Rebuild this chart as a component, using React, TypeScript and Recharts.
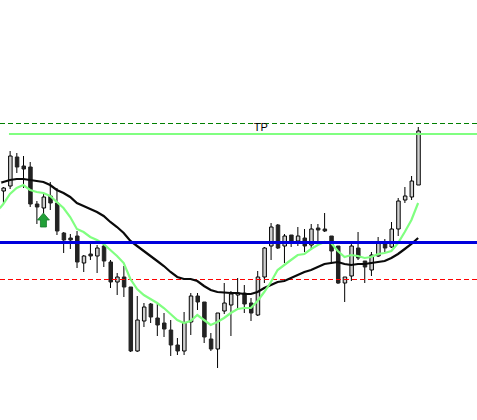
import {
  Bar,
  Cell,
  ComposedChart,
  Line,
  ReferenceDot,
  ReferenceLine,
  XAxis,
  YAxis,
} from "recharts";

// Levels are read off the picture; the price scale has no labels so it runs 0-420.
const opens = [
  229, 234, 263, 254, 253, 216, 212, 224, 217, 187, 182, 184, 157, 166, 164, 174, 158, 138, 143, 133, 69,
  99, 116, 102, 97, 90, 75, 69, 98, 124, 118, 81, 71, 109, 115, 125, 127, 117, 105, 143, 174, 195,
  174, 185, 179, 182, 175, 192, 191, 184, 174, 137, 144, 172, 159, 150, 164, 176, 173, 191, 220, 223, 235,
];
const closes = [
  232, 264, 253, 251, 216, 213, 223, 217, 189, 180, 180, 158, 164, 164, 172, 159, 138, 143, 133, 69, 100,
  113, 103, 95, 91, 75, 69, 97, 124, 118, 83, 71, 107, 117, 126, 127, 116, 107, 143, 172, 193, 172,
  184, 179, 184, 174, 191, 190, 189, 169, 137, 143, 174, 162, 153, 165, 177, 172, 191, 219, 224, 239, 289,
];
const highs = [
  233, 269, 267, 264, 258, 219, 226, 238, 232, 188, 186, 189, 165, 177, 175, 177, 160, 147, 154, 133, 124,
  117, 117, 116, 107, 100, 82, 108, 127, 127, 118, 87, 107, 137, 129, 142, 135, 122, 149, 173, 197, 196,
  186, 185, 193, 191, 196, 196, 207, 184, 174, 143, 176, 188, 159, 168, 183, 181, 198, 222, 233, 244, 293,
];
const lows = [
  217, 231, 247, 232, 213, 196, 207, 210, 185, 167, 171, 152, 148, 160, 147, 153, 132, 125, 123, 68, 68,
  93, 97, 84, 83, 64, 65, 65, 85, 110, 77, 69, 52, 106, 84, 111, 107, 99, 104, 137, 160, 171,
  157, 173, 174, 168, 170, 177, 188, 158, 136, 118, 139, 160, 137, 144, 163, 168, 172, 184, 217, 220, 235,
];
const slowMa = [
  238, 240, 241, 241, 240, 239, 238, 235, 230, 227, 223, 217, 214, 211, 208, 204, 198, 193, 187, 179, 174,
  169, 164, 159, 154, 148, 143, 141, 141, 139, 134, 130, 128, 127.5, 127, 127, 126, 126, 128, 132, 135, 138,
  139, 142, 145, 148, 150, 153, 156, 157, 158, 156, 155, 156, 156, 157, 158, 159, 162, 166, 171, 176, 182,
];
const fastMa = [
  216, 226, 232, 235, 230, 228, 227, 224, 218, 212, 203, 191, 188, 183, 180, 176, 170, 164, 157, 141, 131,
  125, 121, 117, 112, 106, 100, 97, 99, 105, 100, 95, 98, 102, 107, 111, 112, 112, 119, 128, 138, 150,
  155, 160, 165, 166, 171, 175, 178, 177, 169, 163, 165, 164, 162, 163, 166, 167, 169, 177, 188, 200, 217,
];

const TP_LEVEL = 286;
const UPPER_LEVEL = 296.5;
const BLUE_LEVEL = 177.5;
const LOWER_LEVEL = 140.5;
const BUY_SIGNAL = { bar: 6, level: 207 };

// one bar earlier than the window, so both averages run off the left edge
const leadIn = { i: -1, slow: 236, fast: 208 };
const rows = [
  leadIn,
  ...opens.map((open, i) => ({
    i,
    open,
    close: closes[i],
    high: highs[i],
    low: lows[i],
    slow: slowMa[i],
    fast: fastMa[i],
  })),
];

const X_DOMAIN: [number, number] = [-0.49, 70.8];

const wick = (d: any) => (d.high == null ? null : [d.low, d.high]);
const body = (d: any) => (d.open == null ? null : [Math.min(d.open, d.close), Math.max(d.open, d.close)]);

function BuyArrow({ cx, cy }: { cx?: number; cy?: number }) {
  const x = cx ?? 0;
  const y = cy ?? 0;
  return (
    <polygon
      points={`${x},${y} ${x + 6},${y + 7} ${x + 3},${y + 7} ${x + 3},${y + 14} ${x - 3},${y + 14} ${x - 3},${y + 7} ${x - 6},${y + 7}`}
      fill="#22a038"
      stroke="#157a28"
      strokeWidth={0.8}
    />
  );
}

export default function App() {
  return (
    <div style={{ position: "absolute", left: 0, top: 0, width: 477, height: 420 }}>
      <ComposedChart width={477} height={420} data={rows} margin={{ top: 0, right: 0, bottom: 0, left: 0 }}>
        <XAxis hide xAxisId="body" dataKey="i" type="number" domain={X_DOMAIN} allowDataOverflow />
        <XAxis hide xAxisId="wick" dataKey="i" type="number" domain={X_DOMAIN} allowDataOverflow />
        <YAxis hide yAxisId="price" domain={[0, 420]} allowDataOverflow />

        <ReferenceLine xAxisId="body" yAxisId="price" y={UPPER_LEVEL} stroke="#008000" strokeDasharray="5 3" />
        <ReferenceLine xAxisId="body" yAxisId="price" y={LOWER_LEVEL} stroke="#ff0000" strokeDasharray="5 3" />

        <Bar xAxisId="wick" yAxisId="price" dataKey={wick} barSize={1} fill="#000" isAnimationActive={false} />
        <Bar xAxisId="body" yAxisId="price" dataKey={body} barSize={3.5} strokeWidth={1} isAnimationActive={false}>
          {rows.map((d: any) => {
            const up = d.close >= d.open;
            return <Cell key={d.i} fill={up ? "#d0d0d0" : "#222222"} stroke={up ? "#000" : "#222222"} />;
          })}
        </Bar>

        <Line xAxisId="body" yAxisId="price" dataKey="slow" stroke="#0a0a0a" strokeWidth={2.2} dot={false} isAnimationActive={false} />
        <Line xAxisId="body" yAxisId="price" dataKey="fast" stroke="#80ff80" strokeWidth={2.2} dot={false} isAnimationActive={false} />

        <ReferenceLine
          xAxisId="body"
          yAxisId="price"
          segment={[
            { x: 0.85, y: TP_LEVEL },
            { x: 70.8, y: TP_LEVEL },
          ]}
          stroke="#80ff80"
          strokeWidth={2}
        />
        <ReferenceLine xAxisId="body" yAxisId="price" y={BLUE_LEVEL} stroke="#0000dd" strokeWidth={3} />
        <ReferenceDot
          xAxisId="body"
          yAxisId="price"
          x={38.5}
          y={293}
          r={0}
          fill="none"
          stroke="none"
          label={{ value: "TP", position: "center", fontFamily: "Liberation Sans", fontSize: 11, fill: "#000" }}
        />
        <ReferenceDot
          xAxisId="body"
          yAxisId="price"
          x={BUY_SIGNAL.bar}
          y={BUY_SIGNAL.level}
          shape={<BuyArrow />}
        />
      </ComposedChart>
    </div>
  );
}
